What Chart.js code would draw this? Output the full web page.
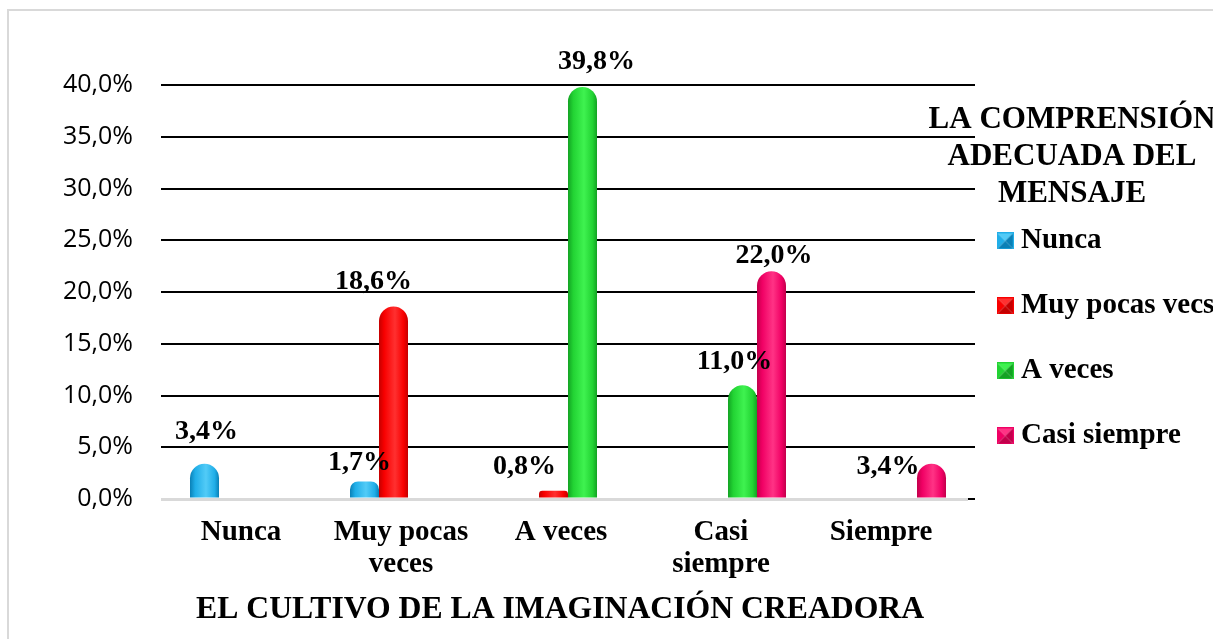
<!DOCTYPE html>
<html>
<head>
<meta charset="utf-8">
<script src="https://cdn.jsdelivr.net/npm/chart.js@4/dist/chart.umd.min.js"></script>
<style>
html, body { margin: 0; padding: 0; background: #ffffff; overflow: hidden; width: 1213px; height: 639px; }
#frame { position: absolute; left: 7px; top: 9px; width: 1400px; height: 800px; border: 2px solid #d9d9d9; }
#c { position: absolute; left: 0; top: 0; }
</style>
</head>
<body>
<div id="frame"></div>
<canvas id="c" width="1213" height="639"></canvas>
<script>
// ---- data ----
const categories = ['Nunca', ['Muy pocas', 'veces'], 'A veces', ['Casi', 'siempre'], 'Siempre'];
const seriesNames = ['Nunca', 'Muy pocas vecs', 'A veces', 'Casi siempre'];
const nuncaValues = [3.4, 1.7, null, null, null];
const muyPocasValues = [null, 18.6, 0.8, null, null];
const aVecesValues = [null, null, 39.8, 11.0, null];
const casiSiempreValues = [null, null, null, 22.0, 3.4];
const yTickLabels = ['0,0%', '5,0%', '10,0%', '15,0%', '20,0%', '25,0%', '30,0%', '35,0%', '40,0%'];
const xAxisTitle = 'EL CULTIVO DE LA IMAGINACIÓN CREADORA';
const legendTitle = ['LA COMPRENSIÓN', 'ADECUADA DEL', 'MENSAJE'];

// ---- styles ----
const SERIF = '"Liberation Serif", "Times New Roman", serif';
const NB = '\u00a0';
const seriesShades = [
  ['#0a80b6', '#20aee8', '#52cbf7'],
  ['#c40000', '#f80000', '#ff3030'],
  ['#13a223', '#22d333', '#3ff250'],
  ['#c2004b', '#f00064', '#ff3385']
];
// label offsets (px) relative to top-centre of each bar
const labelOffsets = [
  [[2, -25], [-5, -11], null, null, null],
  [null, [-20, -17.5], [-29, -17], null, null],
  [null, null, [14, -18], [-8, -16], null],
  [null, null, null, [2.5, -8], [-43.5, 10.5]]
];
const LEGEND_TITLE_FONT = { size: 31, lineHeight: 36.7, padTop: 19.7, padBottom: 49, halfWidth: 104 };

function makeLegendBox(shades) {
  const c = document.createElement('canvas');
  c.width = 17; c.height = 17;
  const g = c.getContext('2d');
  const tri = (a, b, col) => {
    g.beginPath(); g.moveTo(a[0], a[1]); g.lineTo(b[0], b[1]); g.lineTo(8.5, 8.5); g.closePath();
    g.fillStyle = col; g.fill();
  };
  tri([0, 0], [17, 0], shades[2]);
  tri([0, 0], [0, 17], shades[1]);
  tri([0, 17], [17, 17], shades[0]);
  tri([17, 0], [17, 17], shades[0]);
  g.strokeStyle = shades[1]; g.lineWidth = 1; g.strokeRect(0.5, 0.5, 16, 16);
  return c;
}
const legendBoxes = seriesShades.map(makeLegendBox);

const barGradientPlugin = {
  id: 'barGradient',
  beforeDatasetsDraw(chart) {
    const ctx = chart.ctx;
    chart.data.datasets.forEach((ds, di) => {
      const meta = chart.getDatasetMeta(di);
      const sh = seriesShades[di];
      meta.data.forEach(el => {
        if (el.skip || el.x == null || isNaN(el.x) || el.width == null) return;
        const g = ctx.createLinearGradient(el.x - el.width / 2, 0, el.x + el.width / 2, 0);
        g.addColorStop(0, sh[0]);
        g.addColorStop(0.18, sh[1]);
        g.addColorStop(0.55, sh[2]);
        g.addColorStop(0.85, sh[1]);
        g.addColorStop(1, sh[0]);
        el.options = Object.assign({}, el.options, { backgroundColor: g });
      });
    });
  }
};

const gridExtendPlugin = {
  id: 'gridExtend',
  beforeDatasetsDraw(chart) {
    const ys = chart.scales.y;
    const ca = chart.chartArea;
    const ctx = chart.ctx;
    ctx.save();
    ctx.strokeStyle = '#000';
    ctx.lineWidth = 2;
    ys.ticks.forEach(t => {
      const y = Math.round(ys.getPixelForValue(t.value));
      ctx.beginPath(); ctx.moveTo(ca.right, y); ctx.lineTo(ca.right + 7, y); ctx.stroke();
    });
    ctx.restore();
  }
};

const valueLabelPlugin = {
  id: 'valueLabels',
  afterDatasetsDraw(chart) {
    const ctx = chart.ctx;
    ctx.save();
    ctx.font = 'bold 28px ' + SERIF;
    ctx.fillStyle = '#000';
    ctx.textAlign = 'center';
    ctx.textBaseline = 'alphabetic';
    chart.data.datasets.forEach((ds, di) => {
      const meta = chart.getDatasetMeta(di);
      meta.data.forEach((el, i) => {
        const v = ds.data[i];
        const off = labelOffsets[di][i];
        if (v == null || !off) return;
        const txt = v.toFixed(1).replace('.', ',') + '%';
        ctx.fillText(txt, el.x + off[0], el.y + off[1]);
      });
    });
    ctx.restore();
  }
};

// legend title drawn unclipped (it overhangs the legend box to the left, as in the original)
const legendTitlePlugin = {
  id: 'legendTitleText',
  afterDraw(chart) {
    const lg = chart.legend;
    if (!lg) return;
    const ctx = chart.ctx;
    const f = LEGEND_TITLE_FONT;
    ctx.save();
    ctx.font = 'bold ' + f.size + 'px ' + SERIF;
    ctx.fillStyle = '#000';
    ctx.textAlign = 'center';
    ctx.textBaseline = 'middle';
    const cx = lg.left + f.halfWidth;
    let y = lg.top + f.padTop + f.size / 2;
    legendTitle.forEach(line => { ctx.fillText(line, cx, y); y += f.lineHeight; });
    ctx.restore();
  }
};

const seriesValues = [nuncaValues, muyPocasValues, aVecesValues, casiSiempreValues];

new Chart(document.getElementById('c'), {
  type: 'bar',
  data: {
    labels: categories,
    datasets: seriesValues.map((vals, i) => ({
      label: seriesNames[i],
      data: vals,
      backgroundColor: seriesShades[i][1],
      borderWidth: 0
    }))
  },
  options: {
    responsive: false,
    animation: false,
    devicePixelRatio: 1,
    layout: { padding: { top: 85, right: 0, bottom: 0, left: 0 } },
    datasets: {
      bar: { barPercentage: 1, categoryPercentage: 0.725, borderRadius: 15, borderSkipped: 'start', inflateAmount: 0 }
    },
    scales: {
      x: {
        grid: { display: false, drawTicks: false },
        border: { display: false },
        ticks: {
          autoSkip: false, maxRotation: 0, minRotation: 0,
          padding: 18, labelOffset: -7, color: '#000',
          font: { family: SERIF, weight: 'bold', size: 29, lineHeight: 32 / 29 }
        },
        title: {
          display: true, text: xAxisTitle + NB + NB, color: '#000',
          font: { family: SERIF, weight: 'bold', size: 31.7, lineHeight: 1.2 },
          padding: { top: 0, bottom: 9.8 }
        },
        afterFit: s => { s.height = 140; }
      },
      y: {
        min: 0, max: 40,
        ticks: {
          stepSize: 5, padding: 28, color: '#000',
          font: { family: '"Open Sans", sans-serif', size: 25 },
          callback: (v, i) => yTickLabels[i]
        },
        grid: {
          color: c => (c.tick && c.tick.value === 0) ? '#d9d9d9' : '#000',
          lineWidth: c => (c.tick && c.tick.value === 0) ? 3 : 2,
          drawTicks: true, tickLength: 7
        },
        border: { display: false },
        afterFit: s => { s.width = 168; }
      }
    },
    plugins: {
      tooltip: { enabled: false },
      legend: {
        position: 'right',
        align: 'start',
        maxWidth: 245,
        title: {
          display: true,
          text: '',
          color: '#000',
          font: { family: SERIF, weight: 'bold', size: LEGEND_TITLE_FONT.size, lineHeight: LEGEND_TITLE_FONT.lineHeight / LEGEND_TITLE_FONT.size },
          padding: { top: LEGEND_TITLE_FONT.padTop, bottom: LEGEND_TITLE_FONT.padBottom }
        },
        labels: {
          usePointStyle: true, pointStyleWidth: 2.5, padding: 36, color: '#000',
          font: { family: SERIF, weight: 'bold', size: 29 },
          generateLabels: chart => {
            const items = Chart.defaults.plugins.legend.labels.generateLabels(chart);
            items.forEach((it, i) => { it.pointStyle = legendBoxes[i]; it.text = seriesNames[i]; });
            return items;
          }
        }
      }
    }
  },
  plugins: [barGradientPlugin, gridExtendPlugin, valueLabelPlugin, legendTitlePlugin]
});
</script>
</body>
</html>
